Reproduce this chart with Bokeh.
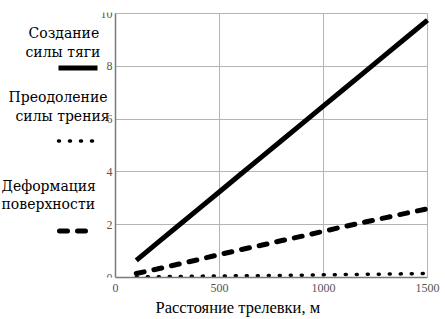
from bokeh.plotting import figure
from bokeh.models import Range1d, FixedTicker, Title, LinearAxis, Grid
from bokeh.core.properties import value
from bokeh.embed import file_html
from bokeh.resources import INLINE

# ---- data ----
distance = [100, 200, 300, 400, 500, 600, 700, 800, 900, 1000, 1100, 1200, 1300, 1400, 1500]
traction = [0.65, 1.3, 1.95, 2.6, 3.25, 3.9, 4.55, 5.2, 5.85, 6.5, 7.15, 7.8, 8.45, 9.1, 9.75]
friction = [0.02, 0.03, 0.04, 0.05, 0.06, 0.065, 0.07, 0.08, 0.09, 0.1, 0.11, 0.12, 0.13, 0.14, 0.15]
deformation = [0.15, 0.32, 0.5, 0.68, 0.87, 1.05, 1.22, 1.4, 1.57, 1.75, 1.93, 2.1, 2.27, 2.44, 2.6]

x_ticks = [0, 500, 1000, 1500]
y_ticks = [0, 2, 4, 6, 8, 10]
x_limits = (0, 1500)
y_limits = (0, 10)
series_labels = [["Создание", "силы тяги"], ["Преодоление", "силы трения"], ["Деформация", "поверхности"]]
x_title = "Расстояние трелевки, м"

FONT = "Liberation Serif"
LEGEND_FONT = "DejaVu Serif"
GRID = "#b4b4b4"
AXIS = "#7a7a7a"

styles = [
    dict(line_width=5, line_cap="butt", line_dash="solid"),
    dict(line_width=3.5, line_cap="round", line_dash="1 10"),
    dict(line_width=5, line_cap="round", line_dash="8 10"),
]

# ---- geometry (page pixels): plot box from x=115..427, y=13..277; legend to its left ----
BOX_LEFT, BOX_RIGHT, BOX_TOP, BOX_BOTTOM = 115, 427, 13, 277
FRAME_W, FRAME_TOP = 429, 12
kx = (BOX_RIGHT - BOX_LEFT) / (x_limits[1] - x_limits[0])
ky = (BOX_BOTTOM - BOX_TOP) / (y_limits[1] - y_limits[0])
x_range = Range1d(x_limits[0] - BOX_LEFT / kx, x_limits[0] + (FRAME_W - BOX_LEFT) / kx)
y_range = Range1d(y_limits[0], y_limits[0] + (BOX_BOTTOM - FRAME_TOP) / ky)

p = figure(frame_width=FRAME_W, frame_height=BOX_BOTTOM - FRAME_TOP, output_backend="svg",
           toolbar_location=None, x_range=x_range, y_range=y_range, y_axis_type=None,
           min_border_left=0, min_border_right=445 - FRAME_W, min_border_top=FRAME_TOP,
           min_border_bottom=0)
p.background_fill_color = "white"
p.border_fill_color = "white"
p.outline_line_color = None


def style_axis(ax):
    ax.axis_line_color = AXIS
    ax.axis_line_width = 1.5
    ax.major_tick_line_color = None
    ax.minor_tick_line_color = None
    ax.major_tick_out = 0
    ax.major_tick_in = 0
    ax.minor_tick_out = 0
    ax.minor_tick_in = 0
    ax.major_label_text_color = "#555555"
    ax.major_label_text_font = FONT
    ax.major_label_text_font_size = "12px"


xax = p.xaxis[0]
style_axis(xax)
xax.ticker = FixedTicker(ticks=x_ticks)
xax.bounds = x_limits
xax.major_label_standoff = 6

yax = LinearAxis(fixed_location=x_limits[0], bounds=y_limits, ticker=FixedTicker(ticks=y_ticks))
style_axis(yax)
yax.major_label_standoff = 3
p.add_layout(yax, "left")

# grids: bounded to the plot box
p.xgrid[0].ticker = FixedTicker(ticks=x_ticks)
p.xgrid[0].grid_line_color = GRID
p.xgrid[0].grid_line_width = 1
has_cross = "cross_bounds" in Grid.properties()
if has_cross:
    p.xgrid[0].cross_bounds = y_limits
    ygrid = Grid(dimension=1, ticker=FixedTicker(ticks=y_ticks), cross_bounds=x_limits,
                 grid_line_color=GRID, grid_line_width=1)
    p.add_layout(ygrid, "center")
else:
    n = len(y_ticks)
    p.segment(x0=[x_limits[0]] * n, x1=[x_limits[1]] * n, y0=y_ticks, y1=y_ticks,
              line_color=GRID, line_width=1)

series = [traction, friction, deformation]
for ys, st in zip(series, styles):
    p.line(distance, ys, line_color="black", **st)

t = Title(text=x_title, align="left", offset=155, text_font=FONT, text_font_size="16.5px",
          text_font_style="normal", text_color="black", standoff=2)
p.add_layout(t, "below")


# ---- legend on the left: page pixel positions converted to data units ----
def X(px):
    return x_limits[0] + (px - BOX_LEFT) / kx


def Y(py):
    return y_limits[0] + (BOX_BOTTOM - py) / ky


text_left = [[28, 25], [8, 15], [1, 1]]
text_bottom = [[40, 59.5], [104.5, 123.5], [193, 211.5]]
sample_y = [67.5, 140.5, 230.5]
sample_x = [[58, 97], [58, 92], [59, 89]]
for lbls, xl, yb, syy, sxx, st in zip(series_labels, text_left, text_bottom, sample_y, sample_x, styles):
    p.text(x=[X(v) for v in xl], y=[Y(v) for v in yb], text=lbls,
           text_font=value(LEGEND_FONT), text_font_size="14px", text_color="black")
    p.line(x=[X(v) for v in sxx], y=[Y(syy), Y(syy)], line_color="black", **st)

open("out.html", "w").write(file_html(p, INLINE))
